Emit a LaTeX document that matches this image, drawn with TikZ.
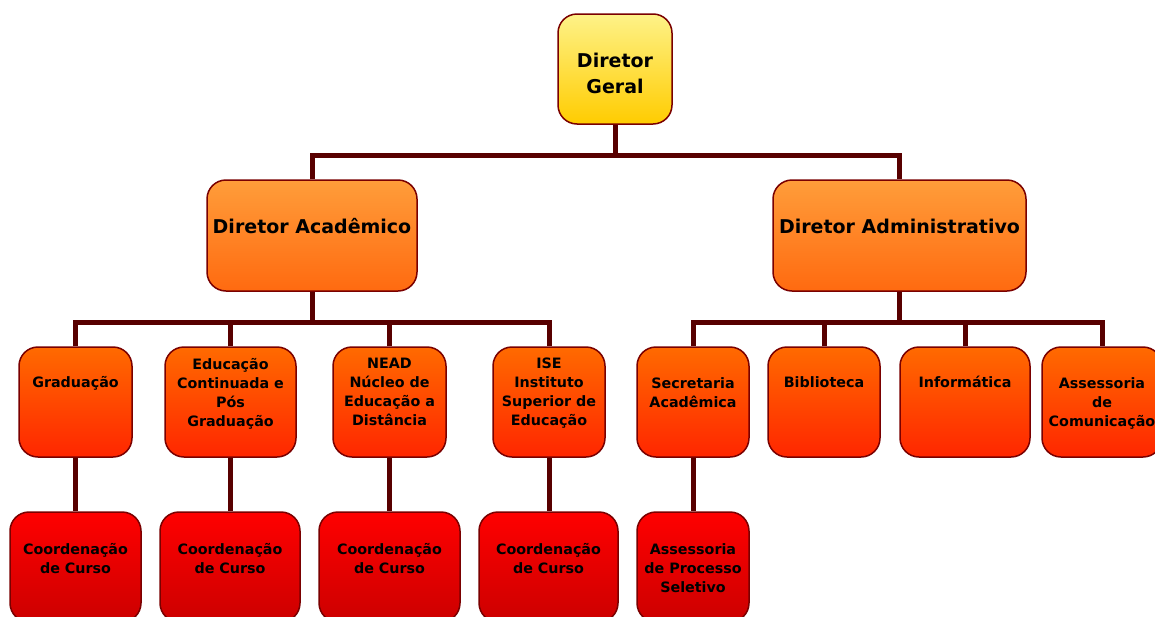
\documentclass[tikz,border=0pt]{standalone}
\usepackage{fontspec}
\setmainfont{DejaVu Sans}
\usetikzlibrary{backgrounds}
\definecolor{bord}{HTML}{7A0000}
\definecolor{conncol}{HTML}{580000}
\tikzset{
  box/.style={draw=bord, line width=1.5pt, rounded corners=19pt, inner sep=0pt},
  lvl0/.style={box, top color=yellowtop, bottom color=yellowbot},
  lvl1/.style={box, top color=l1top, bottom color=l1bot},
  lvl2/.style={box, top color=l2top, bottom color=l2bot, minimum height=110pt},
  lvl3/.style={box, top color=l3top, bottom color=l3bot, minimum height=110pt},
  bigtxt/.style={font=\bfseries\fontsize{19}{26}\selectfont, align=center, text=black, inner sep=0pt},
  smtxt/.style={font=\bfseries\fontsize{14.3}{19}\selectfont, align=center, text=black, anchor=north, inner sep=0pt},
  conn/.style={draw=conncol, line width=5pt}
}
\definecolor{yellowtop}{HTML}{FEF288}
\definecolor{yellowbot}{HTML}{FFCC00}
\definecolor{l1top}{HTML}{FF9D3A}
\definecolor{l1bot}{HTML}{FF6A10}
\definecolor{l2top}{HTML}{FF6A00}
\definecolor{l2bot}{HTML}{FF2600}
\definecolor{l3top}{HTML}{FF0000}
\definecolor{l3bot}{HTML}{CC0000}
\begin{document}
\begin{tikzpicture}[x=1pt,y=-1pt]
\useasboundingbox (0,0) rectangle (1155,616);
\clip (0,0) rectangle (1155,616);
% level 0
\node[lvl0, minimum width=114pt, minimum height=110pt] (g) at (615,69) {};
% level 1
\node[lvl1, minimum width=210pt, minimum height=111pt] (acad) at (312,235.5) {};
\node[lvl1, minimum width=253pt, minimum height=111pt] (adm) at (899.5,235.5) {};
% level 2
\node[lvl2, minimum width=113pt] (grad) at (75.5,402) {};
\node[lvl2, minimum width=131pt] (edu) at (230.5,402) {};
\node[lvl2, minimum width=113pt] (nead) at (389.5,402) {};
\node[lvl2, minimum width=112pt] (ise) at (549,402) {};
\node[lvl2, minimum width=112pt] (sec) at (693,402) {};
\node[lvl2, minimum width=112pt] (bib) at (824,402) {};
\node[lvl2, minimum width=130pt] (inf) at (965,402) {};
\node[lvl2, minimum width=120pt] (com) at (1102,402) {};
% level 3
\node[lvl3, minimum width=131pt] (c1) at (75.5,567) {};
\node[lvl3, minimum width=140pt] (c2) at (230,567) {};
\node[lvl3, minimum width=141pt] (c3) at (389.5,567) {};
\node[lvl3, minimum width=139pt] (c4) at (548.5,567) {};
\node[lvl3, minimum width=112pt] (proc) at (693,567) {};
% labels
\node[bigtxt] (tg) at (615,73) {Diretor\\Geral};
\node[bigtxt] (tacad) at (312,226) {Diretor Acadêmico};
\node[bigtxt] (tadm) at (899.5,226) {Diretor Administrativo};
\node[smtxt] (tgrad) at (75.5,376) {Graduação};
\node[smtxt] (tedu) at (230.5,358) {Educação\\Continuada e\\Pós\\Graduação};
\node[smtxt] (tnead) at (389.5,358) {NEAD\\Núcleo de\\Educação a\\Distância};
\node[smtxt] (tise) at (549,358) {ISE\\Instituto\\Superior de\\Educação};
\node[smtxt] (tsec) at (693,377) {Secretaria\\Acadêmica};
\node[smtxt] (tbib) at (824,376) {Biblioteca};
\node[smtxt] (tinf) at (965,376) {Informática};
\node[smtxt] (tcom) at (1102,377) {Assessoria\\de\\Comunicação};
\node[smtxt] (tc1) at (75.5,543) {Coordenação\\de Curso};
\node[smtxt] (tc2) at (230,543) {Coordenação\\de Curso};
\node[smtxt] (tc3) at (389.5,543) {Coordenação\\de Curso};
\node[smtxt] (tc4) at (548.5,543) {Coordenação\\de Curso};
\node[smtxt] (tproc) at (693,543) {Assessoria\\de Processo\\Seletivo};
% junctions
\coordinate (j0) at (615,155);
\coordinate (ja) at (312,322);
\coordinate (jb) at (899.5,322);
\begin{pgfonlayer}{background}
\draw[conn] (g.south) -- (j0);
\draw[conn] (acad.north) |- (j0) -| (adm.north);
\draw[conn] (acad.south) -- (ja);
\draw[conn] (grad.north) |- (ja) -| (ise.north);
\draw[conn] (edu.north) -- (edu.north |- ja);
\draw[conn] (nead.north) -- (nead.north |- ja);
\draw[conn] (adm.south) -- (jb);
\draw[conn] (sec.north) |- (jb) -| (com.north);
\draw[conn] (bib.north) -- (bib.north |- jb);
\draw[conn] (inf.north) -- (inf.north |- jb);
\draw[conn] (grad.south) -- (c1.north);
\draw[conn] (edu.south) -- (edu.south |- c2.north);
\draw[conn] (nead.south) -- (nead.south |- c3.north);
\draw[conn] (ise.south) -- (ise.south |- c4.north);
\draw[conn] (sec.south) -- (proc.north);
\end{pgfonlayer}
\end{tikzpicture}
\end{document}
